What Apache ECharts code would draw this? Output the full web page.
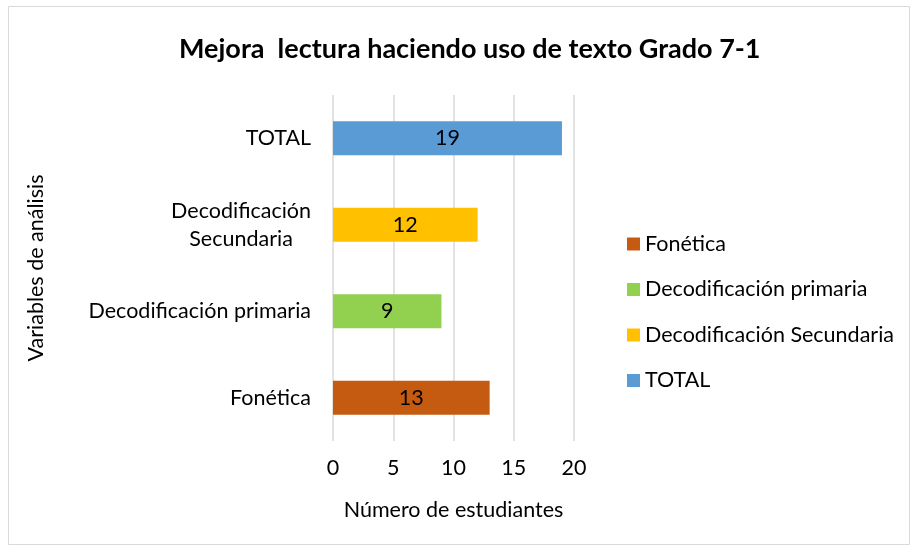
<!DOCTYPE html>
<html>
<head>
<meta charset="utf-8">
<script src="https://cdn.jsdelivr.net/npm/echarts@6/dist/echarts.min.js"></script>
<style>
  html, body { margin: 0; padding: 0; background: #fff; }
  #chart { width: 917px; height: 552px; }
</style>
</head>
<body>
<div id="chart"></div>
<script>
// categories from bottom to top, one series per category (Excel style)
const categories = ['Fonética', 'Decodificación primaria', 'Decodificación Secundaria', 'TOTAL'];
const values = [13, 9, 12, 19];
const colors = ['#C55A11', '#92D050', '#FFC000', '#5B9BD5'];
const xTicks = [0, 5, 10, 15, 20];

const font = 'Lato, "Open Sans", sans-serif';
const fs = 21.5;

const chart = echarts.init(document.getElementById('chart'));

const series = categories.map(function (name, i) {
    return {
        name: name,
        type: 'bar',
        stack: 'one',
        barWidth: 34,
        data: categories.map(function (c, j) { return j === i ? values[i] : '-'; }),
        itemStyle: { color: colors[i] },
        label: {
            show: true,
            position: 'inside',
            color: '#000',
            fontFamily: font,
            fontSize: fs
        }
    };
});

chart.setOption({
    animation: false,
    title: {
        text: 'Mejora  lectura haciendo uso de texto Grado 7-1',
        left: 174,
        top: 31,
        textStyle: { fontFamily: font, fontSize: 27, fontWeight: 'bold', color: '#000' }
    },
    graphic: [{
        type: 'rect',
        shape: { x: 8.5, y: 6.5, width: 901, height: 538 },
        style: { fill: 'none', stroke: '#d9d9d9', lineWidth: 1 },
        silent: true
    }],
    legend: {
        orient: 'vertical',
        left: 622,
        top: 228,
        itemGap: 23.5,
        itemWidth: 13,
        itemHeight: 13,
        icon: 'rect',
        textStyle: { fontFamily: font, fontSize: fs, lineHeight: 22, color: '#000' },
        data: categories
    },
    grid: { left: 333, right: 343, top: 95, bottom: 111 },
    xAxis: {
        type: 'value',
        min: xTicks[0],
        max: xTicks[xTicks.length - 1],
        interval: 5,
        name: 'Número de estudiantes',
        nameLocation: 'middle',
        nameGap: 58,
        nameTextStyle: { fontFamily: font, fontSize: fs, color: '#000' },
        axisLine: { show: false },
        axisTick: { show: false },
        axisLabel: { fontFamily: font, fontSize: fs, color: '#000', margin: 16 },
        splitLine: { show: true, lineStyle: { color: '#d9d9d9', width: 1.5 } }
    },
    yAxis: {
        type: 'category',
        data: categories,
        name: 'Variables de análisis',
        nameLocation: 'middle',
        nameGap: 286,
        nameTextStyle: { fontFamily: font, fontSize: fs, color: '#000' },
        axisLine: { show: false },
        axisTick: { show: false },
        axisLabel: {
            margin: 22,
            fontFamily: font,
            fontSize: fs,
            color: '#000',
            lineHeight: 28,
            formatter: function (v) {
                if (v === 'Decodificación Secundaria') {
                    return '{c|Decodificación}\n{c|Secundaria}';
                }
                return v;
            },
            rich: { c: { align: 'center', fontFamily: font, fontSize: fs, color: '#000', lineHeight: 28 } }
        }
    },
    series: series
});
</script>
</body>
</html>
